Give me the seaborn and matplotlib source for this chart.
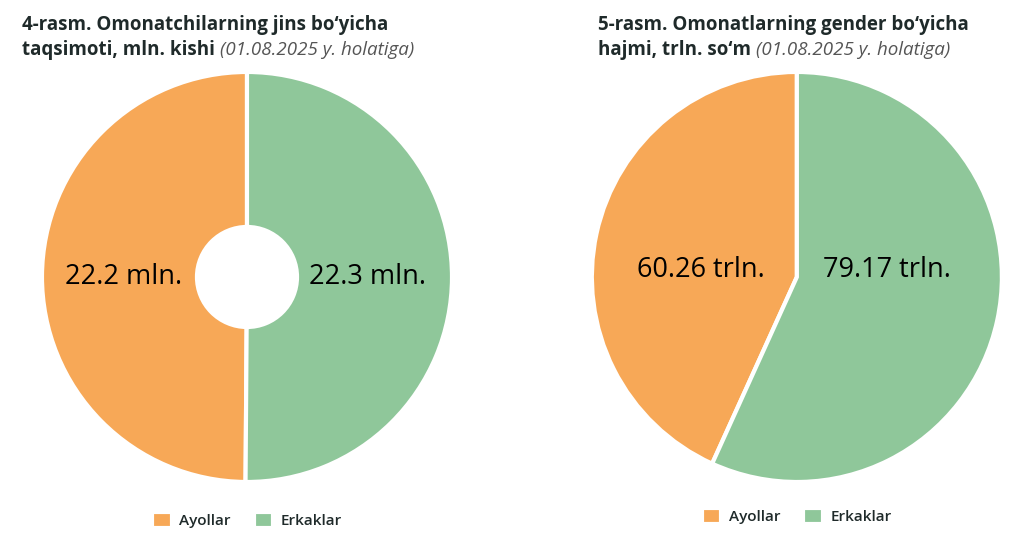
import matplotlib
matplotlib.use("Agg")
import matplotlib.pyplot as plt
import seaborn as sns

# data
genders = ["Ayollar", "Erkaklar"]
depositors_mln = [22.2, 22.3]
deposits_trln = [60.26, 79.17]
depositor_labels = ["22.2 mln.", "22.3 mln."]
deposit_labels = ["60.26 trln.", "79.17 trln."]

sns.set_theme(style="white")
plt.rcParams['font.family'] = ['Open Sans', 'DejaVu Sans']
colors = sns.color_palette(["#F7A857", "#8FC79A"])

fig = plt.figure(figsize=(10.24, 5.44), dpi=100)
ax1 = fig.add_axes([0.041, 0.114, 0.4004, 0.7537])
ax2 = fig.add_axes([0.578, 0.114, 0.4004, 0.7537])

wp = dict(edgecolor="white", linewidth=3)
ax1.pie(depositors_mln, colors=colors, startangle=90, counterclock=True,
        wedgeprops=dict(width=0.756, **wp))
ax2.pie(deposits_trln, colors=colors, startangle=90, counterclock=True,
        wedgeprops=wp)

for ax in (ax1, ax2):
    ax.set_xlim(-1.0, 1.0)
    ax.set_ylim(-1.0, 1.0)
    ax.set_aspect("equal")
    ax.axis("off")

lbl = dict(ha="center", va="center", fontsize=19.5, color="black")
ax1.text(-0.6, 0.0, depositor_labels[0], **lbl)
ax1.text(0.59, 0.0, depositor_labels[1], **lbl)
ax2.text(-0.47, 0.034, deposit_labels[0], **lbl)
ax2.text(0.44, 0.034, deposit_labels[1], **lbl)

for ax, y in ((ax1, -0.04), (ax2, -0.03)):
    leg = ax.legend(ax.patches, genders, loc="upper center", bbox_to_anchor=(0.5, y),
                    ncol=2, frameon=False, fontsize=11, handlelength=1.25, handleheight=1.25,
                    columnspacing=1.5, handletextpad=0.5)
    for t in leg.get_texts():
        t.set_fontweight("semibold")
        t.set_color("#1f2a2a")

title_color = "#1f2a2a"
sub_color = "#555555"
fig.canvas.draw()
renderer = fig.canvas.get_renderer()


def title(x, line1, line2, sub):
    fig.text(x / 1024, 1 - 30 / 544, line1, fontsize=13.5, fontweight="bold",
             color=title_color, va="baseline")
    t = fig.text(x / 1024, 1 - 55 / 544, line2 + " ", fontsize=13.5, fontweight="bold",
                 color=title_color, va="baseline")
    bb = t.get_window_extent(renderer)
    fig.text(bb.x1 / 1024, 1 - 55 / 544, sub, fontsize=13.5, style="italic",
             color=sub_color, va="baseline")


title(22, "4-rasm. Omonatchilarning jins bo\u2018yicha", "taqsimoti, mln. kishi",
      "(01.08.2025 y. holatiga)")
title(598, "5-rasm. Omonatlarning gender bo\u2018yicha", "hajmi, trln. so\u2018m",
      "(01.08.2025 y. holatiga)")

fig.savefig("out.png", dpi=100, facecolor="white")
